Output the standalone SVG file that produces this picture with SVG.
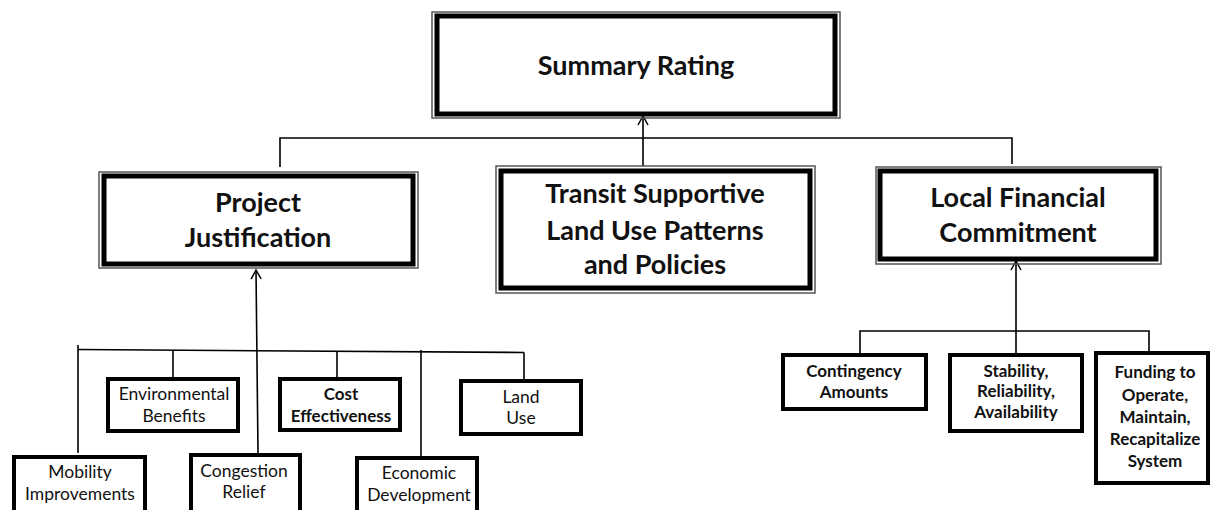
<svg xmlns="http://www.w3.org/2000/svg" width="1213" height="510" viewBox="0 0 1213 510">
<style>
text{font-family:Lato,"Liberation Sans",sans-serif;fill:#111;text-anchor:middle}
.big{font-size:27px;font-weight:bold}
.sb{font-size:17px;font-weight:bold}
.sr{font-size:17.5px}
.outer{fill:none;stroke:#555;stroke-width:1.5}
.thick{fill:#fff;stroke:#000;stroke-width:5}
.box{fill:#fff;stroke:#000;stroke-width:4}
.ln{fill:none;stroke:#000;stroke-width:1.6}
</style>
<defs>
<marker id="arr" markerWidth="12" markerHeight="12" refX="10" refY="6" orient="auto" markerUnits="userSpaceOnUse">
<path d="M1,1 L10,6 L1,11" fill="none" stroke="#000" stroke-width="1.5"/>
</marker>
</defs>
<rect width="1213" height="510" fill="#fff"/>
<g id="connectors">
<polyline class="ln" points="280,167 280,138 1012,138 1012,164"/>
<line class="ln" x1="643" y1="166" x2="643" y2="116" marker-end="url(#arr)"/>
<line class="ln" x1="78" y1="349.5" x2="524" y2="352.5"/>
<line class="ln" x1="78" y1="345" x2="78" y2="453"/>
<line class="ln" x1="173" y1="350" x2="173" y2="377"/>
<line class="ln" x1="337" y1="351" x2="337" y2="377"/>
<line class="ln" x1="421" y1="350" x2="421" y2="456"/>
<line class="ln" x1="524" y1="352.5" x2="524" y2="380"/>
<line class="ln" x1="258" y1="453" x2="256" y2="270" marker-end="url(#arr)"/>
<polyline class="ln" points="860,353 860,331 1149,331 1149,351"/>
<line class="ln" x1="1016" y1="353" x2="1016" y2="261" marker-end="url(#arr)"/>
</g>
<g id="summary">
<rect class="outer" x="432" y="12" width="408" height="106"/>
<rect class="thick" x="437" y="16" width="398" height="98"/>
<text class="big" x="636" y="75">Summary Rating</text>
</g>
<g id="project">
<rect class="outer" x="99" y="172" width="319" height="96"/>
<rect class="thick" x="104" y="176" width="309" height="88"/>
<text class="big" x="258" y="212">Project</text>
<text class="big" x="258" y="247">Justification</text>
</g>
<g id="transit">
<rect class="outer" x="496" y="166" width="319" height="127"/>
<rect class="thick" x="501" y="171" width="309" height="117"/>
<text class="big" x="655" y="203">Transit Supportive</text>
<text class="big" x="655" y="240">Land Use Patterns</text>
<text class="big" x="655" y="274">and Policies</text>
</g>
<g id="local">
<rect class="outer" x="876" y="167" width="285" height="97"/>
<rect class="thick" x="880" y="171" width="276" height="88"/>
<text class="big" x="1018" y="207">Local Financial</text>
<text class="big" x="1018" y="242">Commitment</text>
</g>
<g id="mobility">
<rect class="box" x="14" y="457" width="131" height="60"/>
<text class="sr" x="80" y="478">Mobility</text>
<text class="sr" x="80" y="500">Improvements</text>
</g>
<g id="environmental">
<rect class="box" x="108" y="379" width="130" height="52"/>
<text class="sr" x="174" y="400">Environmental</text>
<text class="sr" x="174" y="422">Benefits</text>
</g>
<g id="congestion">
<rect class="box" x="191" y="455" width="109" height="60"/>
<text class="sr" x="244" y="477">Congestion</text>
<text class="sr" x="244" y="498">Relief</text>
</g>
<g id="cost">
<rect class="box" x="280" y="379" width="120" height="51"/>
<text class="sb" x="341" y="400">Cost</text>
<text class="sb" x="341" y="422">Effectiveness</text>
</g>
<g id="economic">
<rect class="box" x="357" y="458" width="120" height="60"/>
<text class="sr" x="419" y="479">Economic</text>
<text class="sr" x="419" y="501">Development</text>
</g>
<g id="landuse">
<rect class="box" x="461" y="381" width="120" height="53"/>
<text class="sr" x="521" y="403">Land</text>
<text class="sr" x="521" y="424">Use</text>
</g>
<g id="contingency">
<rect class="box" x="783" y="355" width="143" height="54"/>
<text class="sb" x="854" y="377">Contingency</text>
<text class="sb" x="854" y="398">Amounts</text>
</g>
<g id="stability">
<rect class="box" x="950" y="355" width="132" height="76"/>
<text class="sb" x="1016" y="377">Stability,</text>
<text class="sb" x="1016" y="397">Reliability,</text>
<text class="sb" x="1016" y="418">Availability</text>
</g>
<g id="funding">
<rect class="box" x="1096" y="353" width="112" height="130"/>
<text class="sb" x="1155" y="378">Funding to</text>
<text class="sb" x="1155" y="401">Operate,</text>
<text class="sb" x="1155" y="423">Maintain,</text>
<text class="sb" x="1155" y="445">Recapitalize</text>
<text class="sb" x="1155" y="467">System</text>
</g>
</svg>
